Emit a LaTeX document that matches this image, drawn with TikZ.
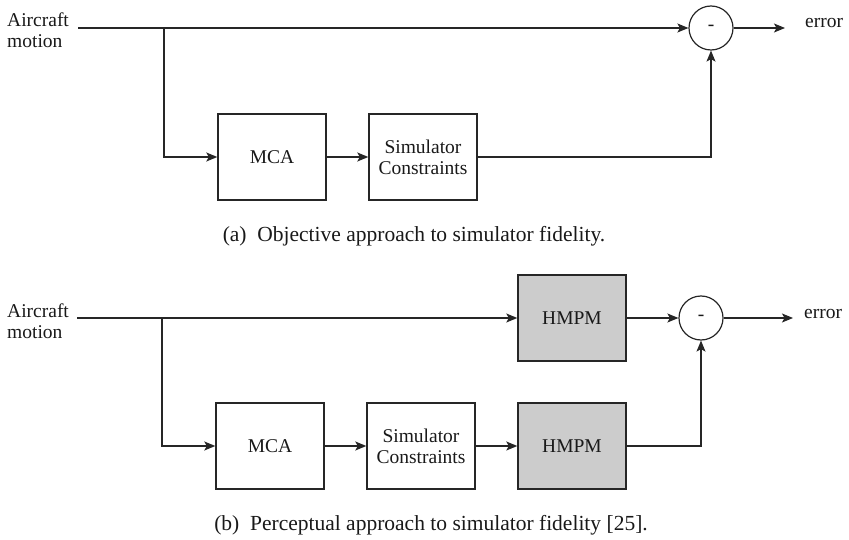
\documentclass[tikz,border=0pt]{standalone}
\usepackage{fontspec}
\setmainfont{Liberation Serif}
\usetikzlibrary{arrows.meta}
\begin{document}
\begin{tikzpicture}[x=1pt,y=-1pt,
  every node/.style={font=\fontsize{19.5}{21}\selectfont, text=black!90},
  blk/.style={draw=black!85, line width=1.4pt, minimum width=108pt, minimum height=86pt, inner sep=0pt, align=center},
  shaded/.style={blk, fill=black!20},
  sumnode/.style={circle, draw=black!85, line width=1.2pt, minimum size=44pt, inner sep=0pt},
  conn/.style={draw=black!85, line width=1.2pt},
  arr/.style={conn, -{Stealth[length=11pt,width=9pt,inset=2.5pt]}},
  lbl/.style={align=left, inner sep=0pt},
  captext/.style={font=\fontsize{21.5}{24}\selectfont, inner sep=0pt}
]
\useasboundingbox (0,0) rectangle (849,540);

% ---------- (a) ----------
\node[lbl, anchor=base west] (lab1) at (7,48) {Aircraft\\motion};
\coordinate (s1) at (78,28);
\coordinate (b1) at (164,28);
\node[blk] (mca1) at (272,157) {MCA};
\node[blk] (sc1) at (423,157) {Simulator\\Constraints};
\node[sumnode] (sum1) at (711,28) {-};
\coordinate (e1) at (785,28);
\node[inner sep=0pt, anchor=base west] (err1) at (805,28) {error};

\draw[arr] (s1) -- (sum1.west);
\draw[arr] (b1) |- (mca1.west);
\draw[arr] (mca1) -- (sc1);
\draw[arr] (sc1.east) -| (sum1.south);
\draw[arr] (sum1.east) -- (e1);

\node[captext] (capa) at (414,236) {(a)\enspace Objective approach to simulator fidelity.};

% ---------- (b) ----------
\node[lbl, anchor=base west] (lab2) at (7,338) {Aircraft\\motion};
\coordinate (s2) at (77,318);
\coordinate (b2) at (162,318);
\node[shaded] (hm2a) at (572,318) {HMPM};
\node[sumnode] (sum2) at (701,318) {-};
\coordinate (e2) at (793,318);
\node[inner sep=0pt, anchor=base west] (err2) at (804,318) {error};
\node[blk] (mca2) at (270,446) {MCA};
\node[blk] (sc2) at (421,446) {Simulator\\Constraints};
\node[shaded] (hm2b) at (572,446) {HMPM};

\draw[arr] (s2) -- (hm2a.west);
\draw[arr] (hm2a) -- (sum2);
\draw[arr] (sum2.east) -- (e2);
\draw[arr] (b2) |- (mca2.west);
\draw[arr] (mca2) -- (sc2);
\draw[arr] (sc2) -- (hm2b);
\draw[arr] (hm2b.east) -| (sum2.south);

\node[captext] (capb) at (431,525) {(b)\enspace Perceptual approach to simulator fidelity [25].};
\end{tikzpicture}
\end{document}
